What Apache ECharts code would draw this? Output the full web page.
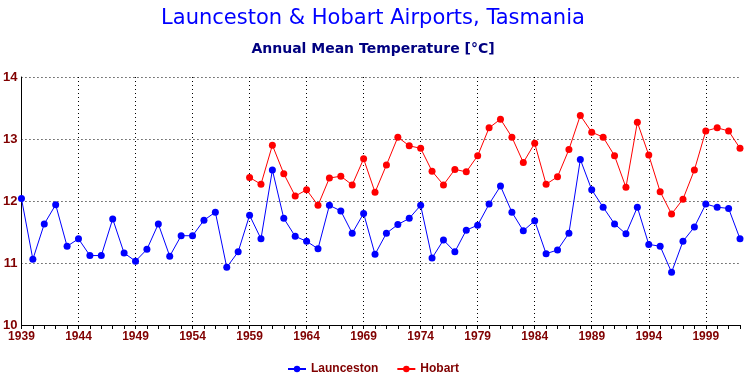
<!DOCTYPE html>
<html><head><meta charset="utf-8">
<script src="https://cdn.jsdelivr.net/npm/echarts@6/dist/echarts.min.js"></script>
<style>html,body{margin:0;padding:0;background:#fff}#c{width:746px;height:374px}</style>
</head><body><div id="c"></div>
<script>
var years = [];
for (var y = 1939; y <= 2002; y++) years.push(String(y));
var launceston = [12.04, 11.06, 11.63, 11.94, 11.27, 11.39, 11.12, 11.12, 11.71, 11.16, 11.03, 11.22, 11.63, 11.11, 11.44, 11.44, 11.69, 11.82, 10.93, 11.18,
  11.77, 11.39, 12.50, 11.72, 11.43, 11.35, 11.23, 11.93, 11.84, 11.48, 11.80, 11.14, 11.48, 11.62, 11.72, 11.93, 11.08, 11.37, 11.18, 11.53, 11.61,
  11.95, 12.24, 11.82, 11.52, 11.68, 11.15, 11.21, 11.48, 12.67, 12.18, 11.90, 11.63, 11.47, 11.90, 11.30, 11.27, 10.85, 11.35, 11.58, 11.95, 11.90, 11.88, 11.39];
var hobartStart = 1959;
var hobartValues = [12.38, 12.27, 12.90, 12.44, 12.08, 12.18, 11.93, 12.37, 12.40, 12.26, 12.68, 12.14, 12.58, 13.03, 12.89, 12.85, 12.48, 12.26, 12.51, 12.47, 12.73,
  13.18, 13.32, 13.03, 12.62, 12.93, 12.27, 12.39, 12.83, 13.38, 13.11, 13.03, 12.73, 12.22, 13.27, 12.74, 12.15, 11.79, 12.03, 12.50, 13.13, 13.18, 13.13, 12.85];
var hobart = [];
for (var i = 1939; i < hobartStart; i++) hobart.push(null);
hobart = hobart.concat(hobartValues);

var chart = echarts.init(document.getElementById('c'), null, {renderer: 'canvas'});
var dark = '#800000';
chart.setOption({
  backgroundColor: '#ffffff',
  animation: false,
  title: [
    {text: 'Launceston & Hobart Airports, Tasmania', left: 'center', top: 3,
     textStyle: {color: '#0000ff', fontSize: 21, fontWeight: 'normal', fontFamily: 'DejaVu Sans'}},
    {text: 'Annual Mean Temperature [°C]', left: 'center', top: 37,
     textStyle: {color: '#000080', fontSize: 14, fontWeight: 'bold', fontFamily: 'DejaVu Sans'}}
  ],
  legend: {
    top: 358, left: 'center', itemWidth: 18, itemHeight: 8, itemGap: 18,
    textStyle: {color: dark, fontWeight: 'bold', fontSize: 12, fontFamily: 'Liberation Sans'},
    data: ['Launceston', 'Hobart']
  },
  grid: {left: 21, right: 6, top: 77, bottom: 49, containLabel: false},
  xAxis: {
    type: 'category', data: years, boundaryGap: false,
    axisLine: {lineStyle: {color: '#000', width: 1}},
    axisTick: {show: true, interval: 0, length: 4, lineStyle: {color: '#000'}},
    axisLabel: {interval: 4, color: dark, fontWeight: 'bold', fontSize: 12, fontFamily: 'Liberation Sans', margin: 6},
    splitLine: {show: true, interval: 4, lineStyle: {color: '#000', type: [1, 3], width: 1}}
  },
  yAxis: {
    type: 'value', min: 10, max: 14, interval: 1,
    axisLine: {show: true, lineStyle: {color: '#000', width: 1}},
    axisTick: {show: false},
    axisLabel: {color: dark, fontWeight: 'bold', fontSize: 13, fontFamily: 'Liberation Sans', margin: 4},
    splitLine: {show: true, lineStyle: {color: '#000', type: [1, 3], width: 1}}
  },
  series: [
    {name: 'Launceston', type: 'line', data: launceston, symbol: 'circle', symbolSize: 7,
     itemStyle: {color: '#0000ff'}, lineStyle: {color: '#0000ff', width: 1}, showAllSymbol: true},
    {name: 'Hobart', type: 'line', data: hobart, symbol: 'circle', symbolSize: 7,
     itemStyle: {color: '#ff0000'}, lineStyle: {color: '#ff0000', width: 1}, showAllSymbol: true}
  ]
});
</script></body></html>
